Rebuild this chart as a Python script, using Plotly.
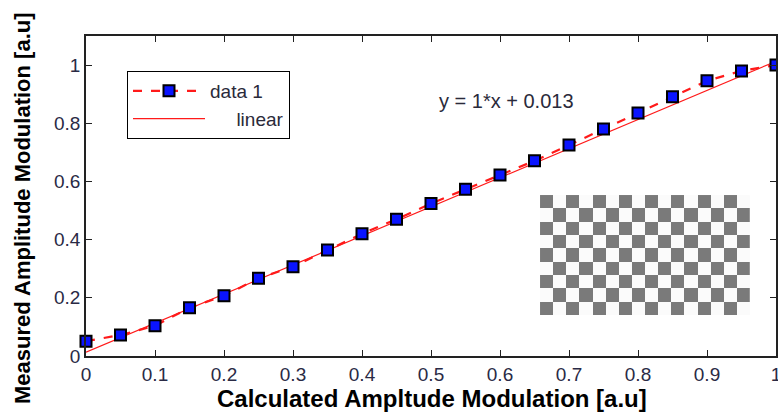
import plotly.graph_objects as go

calc = [0.0, 0.05, 0.1, 0.15, 0.2, 0.25, 0.3, 0.35, 0.4, 0.45, 0.5,
        0.55, 0.6, 0.65, 0.7, 0.75, 0.8, 0.85, 0.9, 0.95, 1.0]
measured = [0.051, 0.072, 0.104, 0.166, 0.207, 0.267, 0.307, 0.364, 0.42, 0.47, 0.524,
            0.573, 0.622, 0.671, 0.725, 0.78, 0.835, 0.891, 0.946, 0.98, 1.0]
fit_x = [0.0, 1.01]
fit_slope = 1.0
fit_intercept = 0.013
fit_y = [fit_slope * v + fit_intercept for v in fit_x]

x_ticks = [0, 0.1, 0.2, 0.3, 0.4, 0.5, 0.6, 0.7, 0.8, 0.9, 1]
x_tick_labels = ["0", "0.1", "0.2", "0.3", "0.4", "0.5", "0.6", "0.7", "0.8", "0.9", "1"]
y_ticks = [0, 0.2, 0.4, 0.6, 0.8, 1]
y_tick_labels = ["0", "0.2", "0.4", "0.6", "0.8", "1"]

checker_rows = 9
checker_cols = 16
checker = [[(r + c + 1) % 2 for c in range(checker_cols)] for r in range(checker_rows)]

FONT = "Liberation Sans, Arial"
tick_font = dict(family=FONT, size=19, color="#2a2a45")

L, R, T, B = 86, 2, 36, 58
W, H = 778, 414
pw, ph = W - L - R, H - T - B

def px_x(v):
    return (v - L) / pw

def px_y(v):
    return (H - B - v) / ph

fig = go.Figure()

fig.add_trace(go.Scatter(
    x=fit_x, y=fit_y, mode="lines", name="\u00a0\u00a0\u00a0\u00a0\u00a0linear",
    line=dict(color="#ff1a1a", width=1.2), cliponaxis=True,
))
fig.add_trace(go.Scatter(
    x=calc, y=measured, mode="lines+markers", name="data 1",
    line=dict(color="#ff1a1a", width=2.2, dash="dash"),
    marker=dict(symbol="square", size=11, color="#0a14ff",
                line=dict(color="black", width=2)),
    cliponaxis=False,
))

fig.add_trace(go.Heatmap(
    z=checker, xaxis="x2", yaxis="y2", showscale=False,
    colorscale=[[0, "#fbfbfb"], [1, "#7a7a7a"]], zmin=0, zmax=1,
    hoverinfo="skip",
))

fig.add_annotation(
    x=0.508, y=0.875, xref="x", yref="y", text="y = 1*x + 0.013",
    showarrow=False, xanchor="left", yanchor="middle",
    font=dict(family=FONT, size=20, color="#2a2a3a"),
)
fig.add_annotation(
    x=px_x(432), y=px_y(398), xref="paper", yref="paper",
    text="<b>Calculated Ampltude Modulation [a.u]</b>",
    showarrow=False, xanchor="center", yanchor="middle",
    font=dict(family=FONT, size=24, color="black"),
)
fig.add_annotation(
    x=px_x(22), y=px_y(208), xref="paper", yref="paper",
    text="<b>Measured Amplitude Modulation [a.u]</b>",
    showarrow=False, textangle=-90, xanchor="center", yanchor="middle",
    font=dict(family=FONT, size=22, color="black"),
)

fig.update_layout(
    width=W, height=H,
    margin=dict(l=L, r=R, t=T, b=B, autoexpand=False),
    paper_bgcolor="white", plot_bgcolor="white",
    showlegend=True,
    legend=dict(
        x=px_x(127), y=px_y(71), xanchor="left", yanchor="top",
        bgcolor="white", bordercolor="black", borderwidth=1,
        font=dict(family=FONT, size=19, color="#2a2a3a"),
        traceorder="reversed", itemwidth=72, tracegroupgap=0,
    ),
    xaxis=dict(
        range=[0, 1], tickvals=x_ticks, ticktext=x_tick_labels,
        ticks="inside", ticklen=6, tickcolor="#222", mirror="allticks",
        showline=True, linecolor="#222", linewidth=1.5,
        showgrid=False, zeroline=False, tickfont=tick_font, automargin=False,
        ticklabeloverflow="allow",
    ),
    yaxis=dict(
        range=[0, 1.1], tickvals=y_ticks, ticktext=y_tick_labels,
        ticks="inside", ticklen=6, tickcolor="#222", mirror="allticks",
        showline=True, linecolor="#222", linewidth=1.5,
        showgrid=False, zeroline=False, tickfont=tick_font, automargin=False,
        ticklabeloverflow="allow",
    ),
    xaxis2=dict(domain=[0.658, 0.962], anchor="y2", visible=False,
                range=[-0.5, checker_cols - 0.5]),
    yaxis2=dict(domain=[0.128, 0.503], anchor="x2", visible=False,
                range=[-0.5, checker_rows - 0.5]),
)

fig.write_html("out.html", config={"displayModeBar": False},
               post_script="document.body.style.margin='0';")
